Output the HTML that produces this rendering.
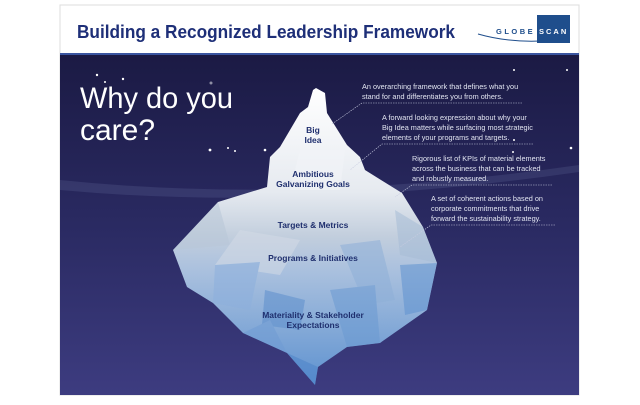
<!DOCTYPE html>
<html><head><meta charset="utf-8"><style>
body{margin:0;width:640px;height:400px;background:#fff;overflow:hidden;font-family:"Liberation Sans",sans-serif}
</style></head><body>
<svg width="640" height="400" viewBox="0 0 640 400" xmlns="http://www.w3.org/2000/svg">
<defs>
<linearGradient id="bg" x1="0" y1="0" x2="0" y2="1"><stop offset="0" stop-color="#1b1a44"/><stop offset="0.5" stop-color="#2a2a62"/><stop offset="1" stop-color="#3d3c80"/></linearGradient>
<linearGradient id="ice" x1="0" y1="0" x2="0" y2="1"><stop offset="0" stop-color="#ffffff"/><stop offset="0.35" stop-color="#e6eaf0"/><stop offset="0.5" stop-color="#c2cedd"/><stop offset="0.62" stop-color="#a9c0de"/><stop offset="1" stop-color="#5e92d0"/></linearGradient>
<clipPath id="clip"><polygon points="316,88 325,93 327,113 347,145 360,157 365,170 402,193 423,227 437,263 427,310 380,343 347,347 318,367 315,385 287,353 243,333 213,303 187,287 173,250 218,202 267,187 270,157 280,147 300,113 308,107 313,90"/></clipPath>
</defs>
<rect x="60" y="5" width="519" height="390" fill="#fff" stroke="#ddd" stroke-width="1"/>
<text x="77" y="38" font-size="18" font-weight="bold" fill="#1e2f78" textLength="378" lengthAdjust="spacingAndGlyphs">Building a Recognized Leadership Framework</text>
<g>
<rect x="537" y="15" width="33" height="28" fill="#1f4e8c"/>
<text x="496" y="34" font-size="7.5" font-weight="bold" fill="#1f4e8c" letter-spacing="2.5">GLOBE</text>
<text x="539" y="34" font-size="7.5" font-weight="bold" fill="#fff" letter-spacing="2">SCAN</text>
<path d="M478,34 Q520,46 570,38" stroke="#1f4e8c" fill="none" stroke-width="1"/>
</g>
<rect x="60" y="53" width="519" height="2" fill="#3a55a0"/>
<rect x="60" y="55" width="519" height="340" fill="url(#bg)"/>
<path d="M60,180 Q300,205 579,165 L579,172 Q300,212 60,190Z" fill="#8f9ccc" opacity="0.15"/>
<g fill="#fff">
<circle cx="97" cy="75" r="1.2"/><circle cx="105" cy="82" r="1"/><circle cx="123" cy="79" r="1.2"/><circle cx="211" cy="83" r="1.5" opacity="0.5"/><circle cx="210" cy="150" r="1.4"/><circle cx="228" cy="148" r="1"/><circle cx="235" cy="151" r="1"/><circle cx="265" cy="150" r="1.3"/><circle cx="514" cy="70" r="1"/><circle cx="567" cy="70" r="1"/><circle cx="571" cy="148" r="1.3"/><circle cx="513" cy="152" r="1"/><circle cx="514" cy="140" r="1"/>
</g>
<text x="80" y="108" font-size="30" fill="#fff" textLength="153" lengthAdjust="spacingAndGlyphs">Why do you</text>
<text x="80" y="140" font-size="30" fill="#fff">care?</text>
<g>
<polygon points="316,88 325,93 327,113 347,145 360,157 365,170 402,193 423,227 437,263 427,310 380,343 347,347 318,367 315,385 287,353 243,333 213,303 187,287 173,250 218,202 267,187 270,157 280,147 300,113 308,107 313,90" fill="url(#ice)"/>
<g clip-path="url(#clip)" opacity="0.55">
<polygon points="173,250 218,202 230,245" fill="#b8c6d8"/>
<polygon points="240,230 300,240 280,275 215,265" fill="#d3dbe6"/>
<polygon points="340,245 380,240 395,300 365,305" fill="#8fb0d8"/>
<polygon points="395,210 423,227 437,263 400,255" fill="#a6bcd6"/>
<polygon points="215,265 260,262 250,310 213,303" fill="#8cb0dd"/>
<polygon points="265,290 305,300 300,330 262,325" fill="#5d8fcd"/>
<polygon points="330,290 375,285 380,343 347,347" fill="#6b9ad2"/>
<polygon points="400,265 437,263 427,310 405,315" fill="#5f92d0"/>
<polygon points="287,353 318,367 315,385" fill="#4d84c8"/>
<polygon points="243,333 270,320 287,353" fill="#6f9bd3"/>
<polygon points="300,150 345,150 340,190 290,190" fill="#f3f5f8"/>
</g>
</g>
<g font-size="8.5" font-weight="bold" fill="#1f2f6e" text-anchor="middle">
<text x="313" y="133">Big</text><text x="313" y="143">Idea</text>
<text x="313" y="177">Ambitious</text><text x="313" y="187">Galvanizing Goals</text>
<text x="313" y="228">Targets &amp; Metrics</text>
<text x="313" y="261">Programs &amp; Initiatives</text>
<text x="313" y="318">Materiality &amp; Stakeholder</text><text x="313" y="328">Expectations</text>
</g>
<g font-size="7.3" fill="#e2e5f1">
<text x="362" y="89">An overarching framework that defines what you</text>
<text x="362" y="99">stand for and differentiates you from others.</text>
<text x="382" y="120">A forward looking expression about why your</text>
<text x="382" y="130">Big Idea matters while surfacing most strategic</text>
<text x="382" y="140">elements of your programs and targets.</text>
<text x="412" y="161">Rigorous list of KPIs of material elements</text>
<text x="412" y="171">across the business that can be tracked</text>
<text x="412" y="181">and robustly measured.</text>
<text x="431" y="201">A set of coherent actions based on</text>
<text x="431" y="211">corporate commitments that drive</text>
<text x="431" y="221">forward the sustainability strategy.</text>
</g>
<g stroke="#c8cce0" stroke-width="0.6" fill="none">
<path d="M522,103 L362,103 L332,124" stroke-dasharray="1.5,1"/>
<path d="M533,144 L382,144 L350,170" stroke-dasharray="1.5,1"/>
<path d="M552,185 L412,185 L395,197" stroke-dasharray="1.5,1"/>
<path d="M555,225 L431,225 L400,247" stroke-dasharray="1.5,1"/>
</g>
</svg>
</body></html>
